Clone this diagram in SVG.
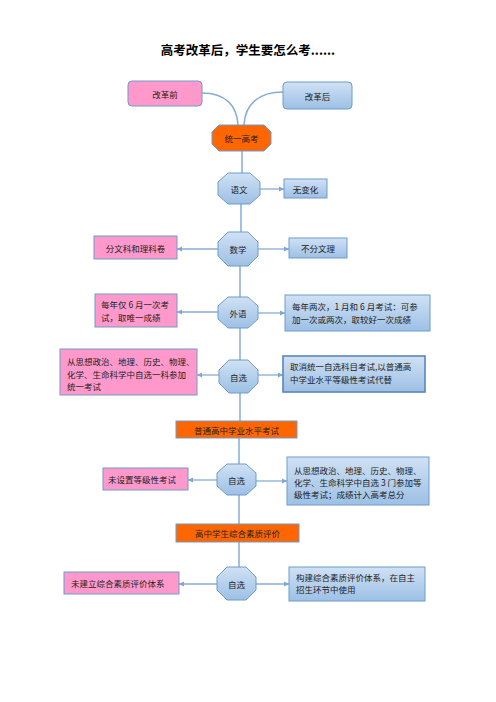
<svg xmlns="http://www.w3.org/2000/svg" width="496" height="702" viewBox="0 0 496 702">
<defs>
<linearGradient id="gb" x1="0" y1="0" x2="0" y2="1"><stop offset="0" stop-color="#D0E1F4"/><stop offset="1" stop-color="#9DC0E5"/></linearGradient>
<marker id="ah" markerWidth="6" markerHeight="6" refX="5" refY="3" orient="auto" markerUnits="userSpaceOnUse"><path d="M0,0.5 L5,3 L0,5.5 Z" fill="#7FA6D1"/></marker>
</defs>
<style>
text{font-family:"Noto Sans CJK SC","Noto Sans",sans-serif;font-size:8.5px;fill:#222;dominant-baseline:central}
.c{text-anchor:middle}
.pk{fill:#FF99CC;stroke:#6F9BCD;stroke-width:1}
.bl{fill:url(#gb);stroke:#6F9BCD;stroke-width:1}
.or{fill:#FF6600;stroke:#6F9BCD;stroke-width:1}
.oc{fill:url(#gb);stroke:#6F9BCD;stroke-width:1}
.ln{fill:none;stroke:#86ACD5;stroke-width:1.5}
.ar{fill:none;stroke:#86ACD5;stroke-width:1.3;marker-end:url(#ah)}
</style>
<rect width="496" height="702" fill="#fff"/>
<text x="248" y="49" class="c" style="font-size:12.5px;font-weight:bold;fill:#000">高考改革后，学生要怎么考......</text>

<g id="connectors">
<path class="ln" d="M202,93 C226,93 237,106 238,125"/>
<path class="ln" d="M283,92 C259,92 245,104 244,125"/>
<line class="ln" x1="242" y1="151" x2="242" y2="173"/>
<line class="ln" x1="241" y1="204" x2="241" y2="232"/>
<line class="ln" x1="240" y1="266" x2="240" y2="297"/>
<line class="ln" x1="240" y1="328" x2="240" y2="360"/>
<line class="ln" x1="240" y1="393" x2="240" y2="421"/>
<line class="ln" x1="239" y1="438" x2="239" y2="464"/>
<line class="ln" x1="239" y1="495" x2="239" y2="524"/>
<line class="ln" x1="239" y1="542" x2="239" y2="567"/>
<line class="ar" x1="260" y1="189" x2="284" y2="189"/>
<line class="ar" x1="218" y1="249" x2="177" y2="249"/>
<line class="ar" x1="258" y1="249" x2="289" y2="249"/>
<line class="ar" x1="218" y1="312" x2="177" y2="312"/>
<line class="ar" x1="258" y1="313" x2="285" y2="313"/>
<line class="ar" x1="219" y1="375" x2="197" y2="375"/>
<line class="ar" x1="258" y1="375" x2="283" y2="375"/>
<line class="ar" x1="217" y1="480" x2="188" y2="480"/>
<line class="ar" x1="256" y1="481" x2="287" y2="481"/>
<line class="ar" x1="217" y1="584" x2="179" y2="584"/>
<line class="ar" x1="256" y1="584" x2="289" y2="584"/>
</g>

<g id="before"><rect class="pk" x="128" y="81" width="74" height="25" rx="4"/><text x="165" y="93.5" class="c">改革前</text></g>
<g id="after"><rect class="bl" x="283" y="82" width="69" height="27" rx="4"/><text x="317.5" y="95.5" class="c">改革后</text></g>
<g id="gaokao"><polygon class="or" points="219,125 264,125 271,132 271,144 264,151 219,151 212,144 212,132"/><text x="241.5" y="138" class="c">统一高考</text></g>

<g id="yuwen"><polygon class="oc" points="228,173 250,173 260,182 260,195 250,204 228,204 218,195 218,182"/><text x="239" y="188.5" class="c">语文</text></g>
<g id="yuwen-r"><rect class="bl" x="284" y="179" width="43" height="19"/><text x="305.5" y="188.5" class="c">无变化</text></g>

<g id="shuxue"><polygon class="oc" points="228,232 248,232 258,242 258,256 248,266 228,266 218,256 218,242"/><text x="238" y="249" class="c">数学</text></g>
<g id="shuxue-l"><rect class="pk" x="94" y="236" width="83" height="23"/><text x="135.5" y="247.5" class="c">分文科和理科卷</text></g>
<g id="shuxue-r"><rect class="bl" x="289" y="238" width="58" height="20"/><text x="318" y="248" class="c">不分文理</text></g>

<g id="waiyu"><polygon class="oc" points="228,297 248,297 258,306 258,319 248,328 228,328 218,319 218,306"/><text x="238" y="312.5" class="c">外语</text></g>
<g id="waiyu-l"><rect class="pk" x="95" y="294" width="82" height="33"/><text x="101" y="304">每年仅 6 月一次考</text><text x="101" y="317">试，取唯一成绩</text></g>
<g id="waiyu-r"><rect class="bl" x="285" y="295" width="145" height="36"/><text x="292" y="306">每年两次，1 月和 6 月考试：可参</text><text x="292" y="318.5">加一次或两次，取较好一次成绩</text></g>

<g id="zixuan1"><polygon class="oc" points="229,360 248,360 258,370 258,383 248,393 229,393 219,383 219,370"/><text x="238.5" y="376.5" class="c">自选</text></g>
<g id="zixuan1-l"><rect class="pk" x="60" y="349" width="137" height="46"/><text x="67" y="361">从思想政治、地理、历史、物理、</text><text x="67" y="373.5">化学、生命科学中自选一科参加</text><text x="67" y="386">统一考试</text></g>
<g id="zixuan1-r"><rect class="bl" x="283" y="356" width="142" height="36" style="stroke:#5A86BA;stroke-width:1.6"/><text x="290" y="366">取消统一自选科目考试,以普通高</text><text x="290" y="378.5">中学业水平等级性考试代替</text></g>

<g id="xueye"><rect class="or" x="176" y="421" width="121" height="17"/><text x="236.5" y="429.5" class="c">普通高中学业水平考试</text></g>

<g id="zixuan2"><polygon class="oc" points="227,464 246,464 256,473 256,486 246,495 227,495 217,486 217,473"/><text x="236.5" y="479.5" class="c">自选</text></g>
<g id="zixuan2-l"><rect class="pk" x="103" y="468" width="85" height="22"/><text x="108" y="479">未设置等级性考试</text></g>
<g id="zixuan2-r"><rect class="bl" x="287" y="457" width="142" height="48"/><text x="294" y="470">从思想政治、地理、历史、物理、</text><text x="294" y="482">化学、生命科学中自选 3 门参加等</text><text x="294" y="494">级性考试；成绩计入高考总分</text></g>

<g id="suzhi"><rect class="or" x="176" y="524" width="123" height="18"/><text x="237.5" y="533" class="c">高中学生综合素质评价</text></g>

<g id="zixuan3"><polygon class="oc" points="227,567 246,567 256,577 256,590 246,600 227,600 217,590 217,577"/><text x="236.5" y="583.5" class="c">自选</text></g>
<g id="zixuan3-l"><rect class="pk" x="64" y="572" width="115" height="22"/><text x="71" y="583">未建立综合素质评价体系</text></g>
<g id="zixuan3-r"><rect class="bl" x="289" y="567" width="136" height="34"/><text x="296" y="577">构建综合素质评价体系，在自主</text><text x="296" y="589">招生环节中使用</text></g>
</svg>
